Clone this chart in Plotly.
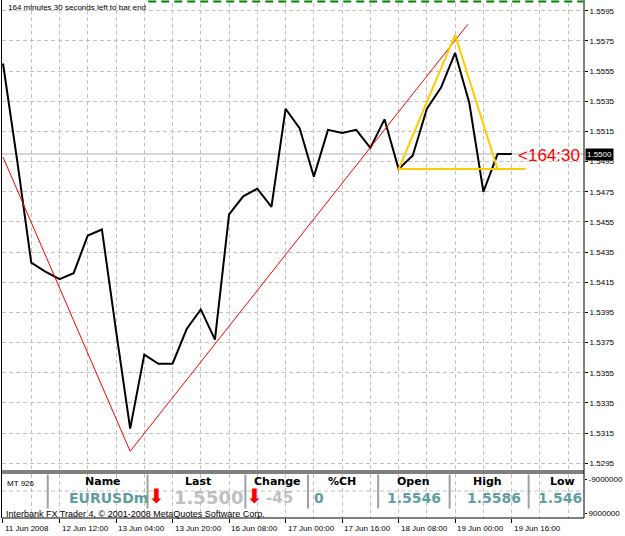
import plotly.graph_objects as go

# ---------------- data ----------------
closes = [1.5560, 1.5496, 1.5428, 1.5422, 1.5417, 1.5421, 1.5446, 1.5450, 1.5383, 1.5318,
          1.5367, 1.5361, 1.5361, 1.5384, 1.5397, 1.5377, 1.5460, 1.5472, 1.5477, 1.5465,
          1.5530, 1.5517, 1.5485, 1.5516, 1.5514, 1.5516, 1.5504, 1.5523, 1.5490, 1.5499,
          1.5530, 1.5544, 1.5567, 1.5534, 1.5475, 1.5500, 1.5500]
bars = list(range(len(closes)))

date_labels = ["11 Jun 2008", "12 Jun 12:00", "13 Jun 04:00", "13 Jun 20:00", "16 Jun 08:00",
               "17 Jun 00:00", "17 Jun 16:00", "18 Jun 08:00", "19 Jun 00:00", "19 Jun 16:00"]
label_bars = [0, 4, 8, 12, 16, 20, 24, 28, 32, 36]
grid_bars = [2, 4, 6, 8, 10, 12, 14, 16, 18, 20, 22, 24, 26, 28, 30, 32, 34, 36, 38, 40]

price_ticks = [1.5295, 1.5315, 1.5335, 1.5355, 1.5375, 1.5395, 1.5415, 1.5435,
               1.5455, 1.5475, 1.5495, 1.5515, 1.5535, 1.5555, 1.5575, 1.5595]
price_labels = ["%.4f" % p for p in price_ticks]

trend_x = [0, 9, 32.9]
trend_y = [1.5498, 1.5303, 1.5586]

tri_x = [37, 28, 32, 35]
tri_y = [1.5490, 1.5490, 1.5579, 1.5490]

bid = 1.5500
timer_label = "<164:30"
timer_bar = 36.3
top_comment = "164 minutes 30 seconds left to bar end"

sub_ticks = [-9000000, 9000000]
sub_labels = ["-9000000", "9000000"]

table_id = "MT 926"
table_headers = ["Name", "Last", "Change", "%CH", "Open", "High", "Low"]
symbol = "EURUSDm"
last_price = "1.5500"
change_pts = "-45"
change_pct = "0"
open_price = "1.5546"
high_price = "1.5586"
low_price = "1.546"
copyright_text = "Interbank FX Trader 4, \u00a9 2001-2008 MetaQuotes Software Corp."

# ---------------- geometry helpers (pixels -> paper) ----------------
W, H = 625, 536
L, R, T, B = 2, 591, 3, 518
def px(x):
    return (x - L) / (R - L)
def py(y):
    return (B - y) / (B - T)

bar_px = 14.3
x0 = (L - 3) / bar_px
x1 = (R - 3) / bar_px
y_lo = 1.5595 - (469 - 10.7) / 15087
y_hi = 1.5595 + (10.7 - 3) / 15087

GRID = "#c8c0c0"
TEAL = "#5f9ea0"
LGRAY = "#c0c0c0"
SMALL = "Liberation Sans"
BOLD = "DejaVu Sans"

fig = go.Figure()

fig.add_trace(go.Scatter(x=bars, y=closes, mode="lines",
                         line=dict(color="black", width=2), xaxis="x", yaxis="y",
                         hoverinfo="skip", showlegend=False))
fig.add_trace(go.Scatter(x=trend_x, y=trend_y, mode="lines",
                         line=dict(color="#ff0000", width=1), xaxis="x", yaxis="y",
                         hoverinfo="skip", showlegend=False))
fig.add_trace(go.Scatter(x=tri_x, y=tri_y, mode="lines",
                         line=dict(color="#ffcc00", width=2), xaxis="x", yaxis="y",
                         hoverinfo="skip", showlegend=False))
fig.add_trace(go.Scatter(x=[None], y=[None], xaxis="x2", yaxis="y2", showlegend=False))
fig.add_trace(go.Scatter(x=[None], y=[None], xaxis="x3", yaxis="y2", showlegend=False))

shapes = []
shapes.append(dict(type="line", xref="paper", yref="y", x0=0, x1=1, y0=bid, y1=bid,
                   line=dict(color="#c4c8d4", width=1.5), layer="below"))
shapes.append(dict(type="rect", xref="paper", yref="paper", x0=0, x1=1,
                   y0=py(474), y1=py(470), fillcolor="#808080", line=dict(width=0)))
shapes.append(dict(type="line", xref="paper", yref="paper", x0=0, x1=1,
                   y0=py(491), y1=py(491), line=dict(color=GRID, width=1, dash="4px,3px"),
                   layer="below"))
for sx in [48.3, 149.3, 248.3, 311.7, 382.7, 455, 535]:
    shapes.append(dict(type="line", xref="paper", yref="paper", x0=px(sx), x1=px(sx),
                       y0=py(508.5), y1=py(474.5), line=dict(color="#a0a0a0", width=2)))
shapes.append(dict(type="line", xref="paper", yref="paper", x0=px(1.5), x1=px(1.5),
                   y0=0, y1=py(0), line=dict(color="black", width=1)))
shapes.append(dict(type="line", xref="paper", yref="paper", x0=px(591), x1=px(591),
                   y0=0, y1=py(0), line=dict(color="black", width=1)))
shapes.append(dict(type="line", xref="paper", yref="paper", x0=0, x1=1,
                   y0=0, y1=0, line=dict(color="black", width=1)))
shapes.append(dict(type="line", xref="paper", yref="paper", x0=px(150), x1=px(590),
                   y0=py(1.5), y1=py(1.5), line=dict(color="#008000", width=2, dash="8px,5px")))

ann = []
for b, t in zip(label_bars, date_labels):
    ann.append(dict(x=b, y=py(528), xref="x2", yref="paper", text=t, showarrow=False,
                    xanchor="left", yanchor="middle", font=dict(family=SMALL, size=8, color="black")))
ann.append(dict(x=px(6), y=py(7.5), xref="paper", yref="paper", text=top_comment, showarrow=False,
                xanchor="left", yanchor="middle", font=dict(family=SMALL, size=8, color="black")))
ann.append(dict(x=timer_bar, y=bid, xref="x", yref="y", text=timer_label, showarrow=False,
                xanchor="left", yanchor="middle", yshift=-1,
                font=dict(family=SMALL, size=17, color="#ff0000")))
ann.append(dict(x=1, y=bid, xref="paper", yref="y", text="%.4f" % bid, showarrow=False,
                xanchor="left", yanchor="middle", xshift=1, bgcolor="black", borderpad=1,
                font=dict(family=SMALL, size=8, color="white")))
ann.append(dict(x=px(5), y=py(483), xref="paper", yref="paper", text=table_id, showarrow=False,
                xanchor="left", yanchor="middle", font=dict(family=SMALL, size=8, color="black")))
for cx, t in zip([104, 200.5, 280.5, 346, 418, 493, 569], table_headers):
    ann.append(dict(x=px(cx), y=py(482), xref="paper", yref="paper", text="<b>%s</b>" % t,
                    showarrow=False, xanchor="center", yanchor="middle",
                    font=dict(family=BOLD, size=11, color="black")))
vals = [(68, symbol, TEAL, 14), (174, last_price, LGRAY, 18), (267, change_pts, LGRAY, 15),
        (316, change_pct, TEAL, 14), (390, open_price, TEAL, 14), (470.5, high_price, TEAL, 14),
        (542.5, low_price, TEAL, 14)]
for lx, t, c, s in vals:
    ann.append(dict(x=px(lx), y=py(497.5), xref="paper", yref="paper", text="<b>%s</b>" % t,
                    showarrow=False, xanchor="left", yanchor="middle",
                    font=dict(family=BOLD, size=s, color=c)))
for ax_ in [158, 258]:
    ann.append(dict(x=px(ax_), y=py(495.5), xref="paper", yref="paper", text="\u2b07",
                    showarrow=False, xanchor="center", yanchor="middle",
                    font=dict(family=BOLD, size=20, color="#ff0000")))
ann.append(dict(x=px(4), y=py(513.5), xref="paper", yref="paper", text=copyright_text,
                showarrow=False, xanchor="left", yanchor="middle",
                font=dict(family=SMALL, size=9, color="black")))

grid_common = dict(showgrid=True, gridcolor=GRID, griddash="4px,3px", gridwidth=1)

fig.update_layout(
    width=W, height=H,
    margin=dict(l=L, r=W - R, t=T, b=H - B, pad=0),
    paper_bgcolor="white", plot_bgcolor="white",
    showlegend=False,
    xaxis=dict(domain=[0, 1], range=[x0, x1], anchor="y", tickmode="array", tickvals=grid_bars,
               showticklabels=False, ticks="", zeroline=False, showline=False, **grid_common),
    yaxis=dict(domain=[py(469), 1], range=[y_lo, y_hi], anchor="x", side="right",
               tickmode="array", tickvals=price_ticks, ticktext=price_labels,
               ticks="outside", ticklen=3, tickcolor="black", zeroline=False, showline=False,
               tickfont=dict(family=SMALL, size=8, color="black"), **grid_common),
    xaxis2=dict(domain=[0, 1], range=[x0, x1], anchor="y2", tickmode="array", tickvals=grid_bars,
                showticklabels=False, ticks="", zeroline=False, showline=False, **grid_common),
    xaxis3=dict(range=[x0, x1], anchor="y2", overlaying="x2", side="bottom", tickmode="array",
                tickvals=label_bars, showticklabels=False, ticks="outside", ticklen=4,
                tickcolor="black", showgrid=False, zeroline=False, showline=False),
    yaxis2=dict(domain=[0, py(474)], range=[11647000, -11647000], anchor="x2", side="right",
                tickmode="array", tickvals=sub_ticks, ticktext=sub_labels, ticks="outside",
                ticklen=2, tickcolor="black", showgrid=False, zeroline=False, showline=False,
                tickfont=dict(family=SMALL, size=8, color="black")),
    shapes=shapes,
    annotations=ann,
)

fig.write_html("out.html")
